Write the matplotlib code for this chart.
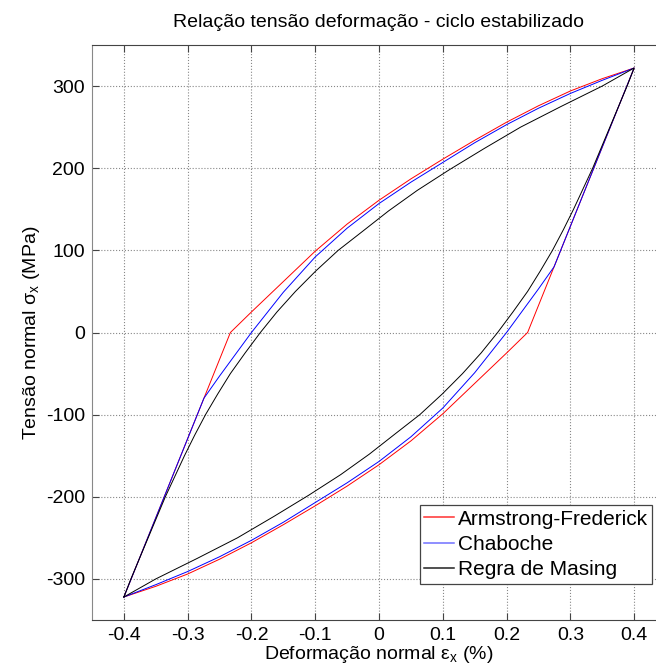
import numpy as np
from matplotlib import pyplot as plt

plt.rcParams['font.family'] = ['Liberation Sans', 'DejaVu Sans']
plt.rcParams['axes.unicode_minus'] = False
plt.rcParams['mathtext.fontset'] = 'custom'
plt.rcParams['mathtext.rm'] = 'Liberation Sans'

# Armstrong-Frederick (red): rising branch then falling branch
af_up_eps = [-0.4, -0.233, -0.2, -0.15, -0.1, -0.05, 0.0, 0.05, 0.1, 0.15, 0.2, 0.25, 0.3, 0.35, 0.4]
af_up_sig = [-322, 0, 25, 62, 99, 132, 161, 187, 211, 234, 256, 276, 294, 309, 322]
af_dn_eps = [0.4, 0.233, 0.2, 0.15, 0.1, 0.05, 0.0, -0.05, -0.1, -0.15, -0.2, -0.25, -0.3, -0.35, -0.4]
af_dn_sig = [322, 0, -25, -62, -99, -132, -161, -187, -211, -234, -256, -276, -294, -309, -322]

# Chaboche (blue)
ch_up_eps = [-0.4, -0.2745, -0.25, -0.2, -0.15, -0.1, -0.05, 0.0, 0.05, 0.1, 0.15, 0.2, 0.25, 0.3, 0.35, 0.4]
ch_up_sig = [-322, -80, -53, 0, 49, 92, 127, 157, 183, 207, 231, 253, 273, 291, 307, 322]
ch_dn_eps = [0.4, 0.2745, 0.25, 0.2, 0.15, 0.1, 0.05, 0.0, -0.05, -0.1, -0.15, -0.2, -0.25, -0.3, -0.35, -0.4]
ch_dn_sig = [322, 80, 53, 0, -49, -92, -127, -157, -183, -207, -231, -253, -273, -291, -307, -322]

# Regra de Masing (black)
ms_up_eps = [-0.4, -0.389, -0.362, -0.335, -0.305, -0.289, -0.272, -0.253, -0.233, -0.21, -0.186,
             -0.16, -0.131, -0.099, -0.064, -0.026, 0.015, 0.06, 0.11, 0.165, 0.222, 0.285, 0.35, 0.4]
ms_up_sig = [-322, -300, -250, -200, -150, -125, -100, -75, -50, -25, 0,
             25, 50, 75, 100, 123, 148, 173, 198, 224, 250, 275, 300, 322]
ms_dn_eps = [0.4, 0.389, 0.362, 0.335, 0.305, 0.289, 0.272, 0.253, 0.233, 0.21, 0.186,
             0.16, 0.131, 0.099, 0.064, 0.026, -0.015, -0.06, -0.11, -0.165, -0.222, -0.285, -0.35, -0.4]
ms_dn_sig = [322, 300, 250, 200, 150, 125, 100, 75, 50, 25, 0,
             -25, -50, -75, -100, -123, -148, -173, -198, -224, -250, -275, -300, -322]

x_ticks = [-0.4, -0.3, -0.2, -0.1, 0, 0.1, 0.2, 0.3, 0.4]
x_labels = ['-0.4', '-0.3', '-0.2', '-0.1', '0', '0.1', '0.2', '0.3', '0.4']
y_ticks = [-300, -200, -100, 0, 100, 200, 300]

fig = plt.figure(figsize=(6.56, 6.68), dpi=100)
ax = fig.add_axes([92 / 656, 48 / 668, 574 / 656, 575 / 668])

lw = 0.7
ax.plot(af_up_eps + af_dn_eps, af_up_sig + af_dn_sig, color='#ff0000', lw=lw, label='Armstrong-Frederick')
ax.plot(ch_up_eps + ch_dn_eps, ch_up_sig + ch_dn_sig, color='#0000ff', lw=lw, label='Chaboche')
ax.plot(ms_up_eps + ms_dn_eps, ms_up_sig + ms_dn_sig, color='#000000', lw=lw, label='Regra de Masing')

ax.set_xlim(-0.45, 0.45)
ax.set_ylim(-350, 350)
ax.set_xticks(x_ticks)
ax.set_xticklabels(x_labels)
ax.set_yticks(y_ticks)
ax.tick_params(direction='in', length=5, width=0.8, labelsize=14, top=True, right=True,
               color='#444444', pad=5)
ax.grid(True, linestyle=':', color='#888888', linewidth=0.8)
for side in ['top', 'bottom', 'right']:
    ax.spines[side].set_color('#444444')
ax.spines['left'].set_color('#888888')

ax.set_title('Relação tensão deformação - ciclo estabilizado', fontsize=14, pad=13)
ax.set_xlabel(r'Deformação normal ε$_{\mathregular{x}}$ (%)', fontsize=14, labelpad=0)
ax.set_ylabel(r'Tensão normal σ$_{\mathregular{x}}$ (MPa)', fontsize=14, labelpad=3)

leg = ax.legend(loc='upper left', bbox_to_anchor=(0.571, 0.200), borderaxespad=0,
                fancybox=False, edgecolor='#444444', framealpha=1, fontsize=15,
                handlelength=1.4, handletextpad=0.2, labelspacing=0.3, borderpad=0.22)
leg.get_frame().set_linewidth(0.9)
for line, c in zip(leg.get_lines(), ['#ff3030', '#7070ff', '#202020']):
    line.set_color(c)
    line.set_linewidth(1.1)

fig.savefig('out.png', dpi=100)
